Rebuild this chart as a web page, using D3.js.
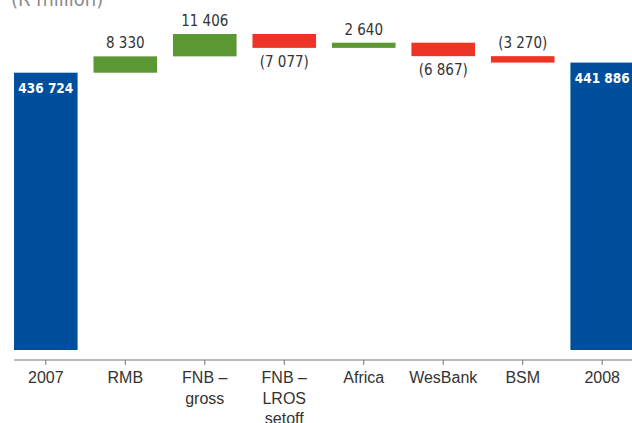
<!DOCTYPE html>
<html>
<head>
<meta charset="utf-8">
<script src="https://cdn.jsdelivr.net/npm/d3@7"></script>
<style>
  body { margin: 0; background: #fff; }
  svg { display: block; font-family: "DejaVu Sans Condensed", "DejaVu Sans", sans-serif; }
</style>
</head>
<body>
<div id="chart"></div>
<script>
var width = 632;
var height = 423;

// chart data
var categories = ["2007", "RMB", "FNB – gross", "FNB – LROS setoff", "Africa", "WesBank", "BSM", "2008"];
var tickLabels = [["2007"], ["RMB"], ["FNB –", "gross"], ["FNB –", "LROS", "setoff"], ["Africa"], ["WesBank"], ["BSM"], ["2008"]];
var values = [436724, 8330, 11406, -7077, 2640, -6867, -3270, 441886];
var kinds = ["total", "delta", "delta", "delta", "delta", "delta", "delta", "total"];
var labelSide = ["in", "above", "above", "below", "above", "below", "above", "in"];

var colors = { total: "#004f9c", up: "#5b9732", down: "#ee3424" };

// build waterfall steps
var running = 0;
var data = categories.map(function(c, i) {
  var v = values[i], y0, y1;
  if (kinds[i] == "total") {
    y0 = 0; y1 = v; running = v;
  } else {
    y0 = running; y1 = running + v; running = y1;
  }
  return { cat: c, value: v, kind: kinds[i], lo: Math.min(y0, y1), hi: Math.max(y0, y1), side: labelSide[i], ticks: tickLabels[i] };
});

var svg = d3.select("#chart")
  .append("svg")
  .attr("width", width)
  .attr("height", height);

var x = d3.scaleBand()
  .domain(categories)
  .range([14, 634])
  .paddingInner(0.2)
  .paddingOuter(0);

var y = d3.scaleLinear()
  .domain([295300, 473800])
  .range([350, 0]);

var fmt = function(v) {
  var s = d3.format(",")(Math.abs(v)).replace(/,/g, " ");
  return v < 0 ? "(" + s + ")" : s;
};

// title, cut off at the top
svg.append("text")
  .attr("x", 11)
  .attr("y", 6)
  .style("font-size", "20px")
  .style("fill", "#8a8a8a")
  .text("(R million)");

// bars
svg.append("g")
  .selectAll("rect")
  .data(data)
  .enter()
  .append("rect")
  .attr("x", function(d) { return x(d.cat); })
  .attr("width", x.bandwidth())
  .attr("y", function(d) { return y(d.hi); })
  .attr("height", function(d) {
    var bottom = d.kind == "total" ? 350 : y(d.lo);
    return bottom - y(d.hi);
  })
  .style("fill", function(d) {
    if (d.kind == "total") return colors.total;
    return d.value >= 0 ? colors.up : colors.down;
  });

// value labels
svg.append("g")
  .selectAll("text")
  .data(data)
  .enter()
  .append("text")
  .attr("x", function(d) { return x(d.cat) + x.bandwidth() / 2; })
  .attr("y", function(d) {
    if (d.side == "in") return y(d.hi) + 20;
    if (d.side == "above") return y(d.hi) - 8;
    return y(d.lo) + 19;
  })
  .attr("text-anchor", "middle")
  .style("font-size", function(d) { return d.side == "in" ? "13.5px" : "15px"; })
  .style("font-weight", function(d) { return d.side == "in" ? "bold" : "normal"; })
  .style("fill", function(d) { return d.side == "in" ? "#fff" : "#333"; })
  .text(function(d) { return fmt(d.value); });

// axis
var axis = svg.append("g")
  .attr("transform", "translate(0,360)")
  .call(d3.axisBottom(x).tickSize(5).tickSizeOuter(0).tickFormat(""));

axis.select(".domain")
  .attr("d", "M14,0H" + width)
  .style("stroke", "#777");
axis.selectAll(".tick line").style("stroke", "#777");

axis.selectAll(".tick").each(function(c, i) {
  var t = d3.select(this).append("text")
    .attr("y", 23)
    .attr("text-anchor", "middle")
    .style("font-size", "16px")
    .style("fill", "#333");
  data[i].ticks.forEach(function(line, j) {
    t.append("tspan")
      .attr("x", 0)
      .attr("dy", j == 0 ? 0 : 20.5)
      .text(line);
  });
});
</script>
</body>
</html>
